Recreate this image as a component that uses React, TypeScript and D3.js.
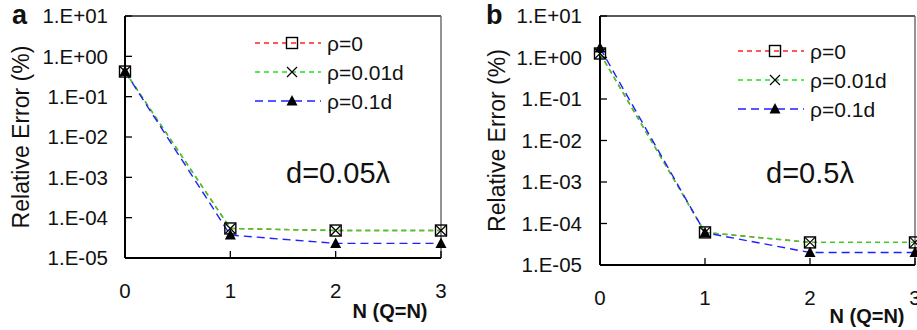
import React from 'react';
import * as d3 from 'd3';

// x values (N, with Q=N)
const nValues = [0, 1, 2, 3];
const tickLabels = ['1.E+01', '1.E+00', '1.E-01', '1.E-02', '1.E-03', '1.E-04', '1.E-05'];
const tickValues = [1e1, 1e0, 1e-1, 1e-2, 1e-3, 1e-4, 1e-5];
const seriesNames = ['ρ=0', 'ρ=0.01d', 'ρ=0.1d'];

// panel a, d = 0.05 lambda
const aRho0 = [0.42, 5.4e-5, 4.8e-5, 4.8e-5];
const aRho001 = [0.42, 5.4e-5, 4.8e-5, 4.8e-5];
const aRho01 = [0.42, 3.7e-5, 2.3e-5, 2.3e-5];

// panel b, d = 0.5 lambda
const bRho0 = [1.25, 6.1e-5, 3.5e-5, 3.5e-5];
const bRho001 = [1.25, 6.1e-5, 3.5e-5, 3.5e-5];
const bRho01 = [1.7, 6.0e-5, 2.0e-5, 2.0e-5];

const colors = ['#ff2020', '#20e020', '#2020ff'];
const dashes = ['5,4', '5,4', '8,5'];
const font = '"Liberation Sans", Arial, sans-serif';

type PanelProps = {
  ox: number;
  left: number;
  right: number;
  top: number;
  bottom: number;
  label: string;
  note: string;
  noteX: number;
  series: number[][];
  legendX: number;
  legendY: number;
  yLabelX: number;
  yTitleX: number;
  xLabelY: number;
  xTitleX: number;
  xTitleY: number;
};

function Marker({ kind, x, y }: { kind: number; x: number; y: number }) {
  if (kind === 0) {
    return <rect x={x - 5.5} y={y - 5.5} width={11} height={11} fill="none" stroke="black" strokeWidth={1.4} />;
  }
  if (kind === 1) {
    return (
      <path d={`M${x - 5},${y - 5}L${x + 5},${y + 5}M${x - 5},${y + 5}L${x + 5},${y - 5}`} stroke="black" strokeWidth={1.2} />
    );
  }
  return <path d={`M${x},${y - 6}L${x + 5.5},${y + 4.5}L${x - 5.5},${y + 4.5}Z`} fill="black" />;
}

function Panel(p: PanelProps) {
  const x = d3.scaleLinear().domain([0, 3]).range([p.left, p.right]);
  const y = d3.scaleLog().domain([1e-5, 1e1]).range([p.bottom, p.top]);
  const line = d3.line<number>().x((_, i) => x(nValues[i])).y((d) => y(d));

  return (
    <g transform={`translate(${p.ox},0)`} fontFamily={font}>
      {/* frame */}
      <line x1={p.left} x2={p.right} y1={p.top} y2={p.top} stroke="#222" strokeWidth={1.6} />
      <line x1={p.right} x2={p.right} y1={p.top} y2={p.bottom} stroke="#666" strokeWidth={1.4} />
      <line x1={p.left} x2={p.left} y1={p.top} y2={p.bottom} stroke="black" strokeWidth={2} />
      <line x1={p.left} x2={p.right} y1={p.bottom} y2={p.bottom} stroke="black" strokeWidth={2.2} />

      {/* y ticks */}
      {tickValues.map((v, i) => (
        <g key={i}>
          <line x1={p.left} x2={p.left + 7} y1={y(v)} y2={y(v)} stroke="black" strokeWidth={1.3} />
          <text x={p.yLabelX} y={y(v)} dy="0.36em" textAnchor="end" fontSize={20.5} fill="#111">
            {tickLabels[i]}
          </text>
        </g>
      ))}

      {/* x ticks */}
      {nValues.map((n) => (
        <g key={n}>
          <line x1={x(n)} x2={x(n)} y1={p.bottom} y2={p.bottom - 7} stroke="black" strokeWidth={1.3} />
          <text x={x(n)} y={p.xLabelY} dy="0.36em" textAnchor="middle" fontSize={20.5} fill="#111">
            {n}
          </text>
        </g>
      ))}

      {/* series lines */}
      {p.series.map((s, i) => (
        <path key={i} d={line(s) || ''} fill="none" stroke={colors[i]} strokeWidth={1.4} strokeDasharray={dashes[i]} />
      ))}
      {/* markers */}
      {p.series.map((s, i) =>
        s.map((v, j) => <Marker key={`${i}-${j}`} kind={i} x={x(nValues[j])} y={y(v)} />)
      )}

      {/* legend */}
      {seriesNames.map((name, i) => {
        const ly = p.legendY + i * 29;
        return (
          <g key={name}>
            <line x1={p.legendX} x2={p.legendX + 66} y1={ly} y2={ly} stroke={colors[i]} strokeWidth={1.4} strokeDasharray={dashes[i]} />
            <Marker kind={i} x={p.legendX + 37} y={ly} />
            <text x={p.legendX + 72} y={ly} dy="0.36em" fontSize={21} fill="#111">
              {name}
            </text>
          </g>
        );
      })}

      <text x={p.noteX} y={183} fontSize={29} fill="#111">
        {p.note}
      </text>

      <text
        transform={`translate(${p.yTitleX},${(p.top + p.bottom) / 2}) rotate(-90)`}
        textAnchor="middle"
        dy="0.36em"
        fontSize={23}
        fill="#111"
      >
        Relative Error (%)
      </text>
      <text x={p.xTitleX} y={p.xTitleY} dy="0.36em" textAnchor="middle" fontSize={20} fontWeight="bold" fill="#111">
        N (Q=N)
      </text>
      <text x={p.yLabelX - 96} y={24} fontSize={27} fontWeight="bold" fill="#111">
        {p.label}
      </text>
    </g>
  );
}

export default function App() {
  return (
    <svg width={917} height={330} style={{ position: 'absolute', left: 0, top: 0, background: 'white' }}>
      <Panel
        ox={0}
        left={125}
        right={441}
        top={16}
        bottom={258}
        label="a"
        note="d=0.05λ"
        noteX={286}
        series={[aRho0, aRho001, aRho01]}
        legendX={255}
        legendY={43}
        yLabelX={108}
        yTitleX={21}
        xLabelY={291}
        xTitleX={390}
        xTitleY={311}
      />
      <Panel
        ox={460}
        left={140}
        right={455}
        top={16}
        bottom={265}
        label="b"
        note="d=0.5λ"
        noteX={306}
        series={[bRho0, bRho001, bRho01]}
        legendX={278}
        legendY={51}
        yLabelX={122}
        yTitleX={37}
        xLabelY={298}
        xTitleX={407}
        xTitleY={316}
      />
    </svg>
  );
}
